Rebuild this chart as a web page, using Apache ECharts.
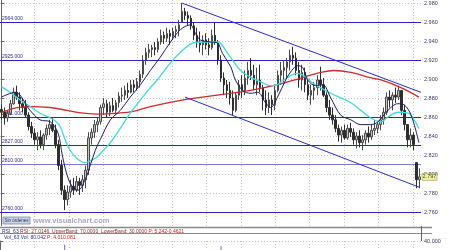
<!DOCTYPE html>
<html><head><meta charset="utf-8">
<script src="https://cdn.jsdelivr.net/npm/echarts@6/dist/echarts.min.js"></script>
<style>html,body{margin:0;padding:0;background:#fff}#c{width:450px;height:250px}</style>
</head><body><div id="c"></div>
<script>
const high = [
2.873,2.870,2.867,2.878,2.891,2.893,2.886,2.880,2.878,2.865,
2.855,2.848,2.844,2.846,2.843,2.852,2.857,2.859,2.852,2.836,
2.815,2.788,2.788,2.794,2.796,2.798,2.796,2.799,2.809,2.844,
2.848,2.857,2.859,2.873,2.880,2.878,2.876,2.880,2.878,2.886,
2.891,2.893,2.896,2.899,2.899,2.901,2.909,2.925,2.933,2.937,
2.936,2.939,2.943,2.952,2.950,2.954,2.952,2.954,2.956,2.962,
2.980,2.975,2.971,2.967,2.960,2.954,2.950,2.946,2.948,2.943,
2.952,2.959,2.941,2.925,2.907,2.899,2.897,2.888,2.886,2.899,
2.904,2.909,2.918,2.922,2.915,2.912,2.915,2.894,2.888,2.886,
2.883,2.894,2.909,2.918,2.920,2.922,2.931,2.934,2.928,2.918,
2.915,2.912,2.899,2.894,2.897,2.904,2.913,2.901,2.886,2.878,
2.870,2.862,2.852,2.850,2.852,2.852,2.854,2.848,2.844,2.846,
2.841,2.846,2.850,2.852,2.857,2.855,2.862,2.870,2.886,2.888,
2.886,2.891,2.893,2.888,2.873,2.852,2.848,2.844,2.812,2.806];
const low = [
2.857,2.852,2.855,2.862,2.873,2.878,2.867,2.865,2.859,2.846,
2.838,2.831,2.825,2.827,2.825,2.836,2.841,2.844,2.827,2.804,
2.778,2.762,2.767,2.775,2.778,2.781,2.778,2.781,2.785,2.799,
2.831,2.838,2.844,2.852,2.862,2.859,2.861,2.865,2.862,2.870,
2.876,2.878,2.880,2.885,2.886,2.888,2.891,2.901,2.915,2.922,
2.923,2.925,2.928,2.936,2.937,2.939,2.936,2.941,2.943,2.945,
2.960,2.962,2.957,2.952,2.941,2.933,2.928,2.925,2.931,2.925,
2.931,2.936,2.915,2.897,2.883,2.880,2.873,2.862,2.865,2.878,
2.880,2.883,2.894,2.899,2.888,2.883,2.886,2.867,2.862,2.864,
2.862,2.867,2.886,2.894,2.897,2.901,2.909,2.915,2.904,2.891,
2.888,2.886,2.878,2.873,2.878,2.883,2.888,2.881,2.865,2.857,
2.852,2.844,2.834,2.833,2.836,2.836,2.839,2.831,2.827,2.828,
2.825,2.831,2.833,2.836,2.841,2.843,2.846,2.852,2.862,2.870,
2.867,2.875,2.878,2.862,2.846,2.828,2.828,2.825,2.785,2.785];
const close = [
2.865,2.859,2.864,2.874,2.886,2.881,2.874,2.870,2.862,2.850,
2.843,2.836,2.839,2.831,2.841,2.848,2.852,2.846,2.831,2.809,
2.783,2.773,2.781,2.787,2.783,2.792,2.788,2.794,2.804,2.838,
2.844,2.852,2.855,2.870,2.874,2.865,2.872,2.867,2.875,2.882,
2.883,2.888,2.886,2.894,2.891,2.897,2.905,2.920,2.928,2.931,
2.933,2.931,2.939,2.946,2.943,2.948,2.945,2.950,2.952,2.957,
2.971,2.967,2.964,2.956,2.946,2.939,2.936,2.941,2.936,2.933,
2.946,2.939,2.920,2.901,2.894,2.888,2.880,2.867,2.883,2.894,
2.888,2.901,2.909,2.904,2.894,2.899,2.891,2.878,2.870,2.878,
2.873,2.888,2.904,2.909,2.912,2.918,2.925,2.922,2.909,2.899,
2.907,2.894,2.883,2.888,2.891,2.899,2.894,2.883,2.870,2.862,
2.857,2.848,2.841,2.846,2.838,2.848,2.844,2.836,2.840,2.833,
2.836,2.843,2.839,2.846,2.848,2.852,2.857,2.865,2.881,2.878,
2.883,2.881,2.888,2.867,2.852,2.836,2.841,2.831,2.794,2.797];
const firstOpen = 2.868;

// moving averages: [bar index, price]
const maFast = [[0,2.881],[4.5,2.886],[9.5,2.867],[12.8,2.857],[16.2,2.855],[18.8,2.843],[20.2,2.820],[21.8,2.799],[23.5,2.787],[25.5,2.783],[27.8,2.794],[29.5,2.809],[31.2,2.825],[32.8,2.836],[36.2,2.857],[39.5,2.867],[42.8,2.881],[46.2,2.894],[49.5,2.909],[52.8,2.923],[56.2,2.939],[59.5,2.952],[62.8,2.957],[64.5,2.948],[66.2,2.941],[69.5,2.939],[71.8,2.938],[73.5,2.927],[76.2,2.913],[77.8,2.899],[80.2,2.888],[82.8,2.885],[85.2,2.886],[87.8,2.875],[89.5,2.870],[91.8,2.881],[94.5,2.899],[96.5,2.909],[98.5,2.914],[100.2,2.912],[101.8,2.899],[104.5,2.893],[106.8,2.894],[109.5,2.880],[112.8,2.862],[116.2,2.857],[119.5,2.852],[122.8,2.852],[125.2,2.855],[128.5,2.867],[131.8,2.874],[133.8,2.873],[136.2,2.862],[138.8,2.833]];
const maMid = [[0,2.892],[2.8,2.886],[6.2,2.878],[9.5,2.871],[12.8,2.864],[16.2,2.859],[17.8,2.856],[19.5,2.850],[21.2,2.836],[22.8,2.825],[25.2,2.816],[27.8,2.812],[30.2,2.815],[31.8,2.818],[34.5,2.827],[36.2,2.833],[39.5,2.848],[42.8,2.864],[46.2,2.878],[49.5,2.891],[51.8,2.899],[56.2,2.917],[60.5,2.931],[63.8,2.938],[67.2,2.939],[71.8,2.939],[75.2,2.927],[79.5,2.909],[82.8,2.902],[86.2,2.897],[89.5,2.893],[91.8,2.894],[93.8,2.899],[98.5,2.906],[101.2,2.902],[103.8,2.895],[109.5,2.885],[116.2,2.875],[119.5,2.867],[122.8,2.859],[126.2,2.855],[128.5,2.860],[131.8,2.865],[135.2,2.864],[137.2,2.857],[138.8,2.848]];
const maSlow = [[0,2.865],[5.2,2.870],[9.5,2.871],[16.2,2.870],[21.8,2.867],[27.2,2.864],[32.8,2.863],[38.5,2.864],[43.8,2.866],[49.5,2.871],[60.5,2.878],[71.8,2.883],[82.8,2.888],[91.8,2.894],[99.5,2.901],[106.2,2.907],[110.5,2.909],[116.2,2.907],[121.8,2.902],[126.2,2.899],[132.8,2.891],[138.8,2.881]];

const trendUpper = [[60,2.980],[139.5,2.886]];
const trendLower = [[61,2.881],[139,2.786]];
const levels = [2.964, 2.925, 2.861, 2.827, 2.810, 2.760];
const levelLabels = ['2964.000','2925.000','2861.000','2827.000','2810.000','2760.000'];
const lastPrice = 2.797;
const volume = [[21, 37.5], [73, 36.5]];
const rsiInfo = ['RSI_63', 'RSI: 27.0146  UpperBand: 70.0000  LowerBand: 30.0000', 'P: 5.242-0.4621'];
const volInfo = ['Vol_63', 'Vol: 80.042', 'P: 4.010.081'];

const cats = close.map((_, i) => 'B' + i);
const candles = close.map((c, i) => {
  let o = i === 0 ? firstOpen : close[i - 1];
  o = Math.min(high[i], Math.max(low[i], o));
  return [o, c, low[i], high[i]];
});

const FONT = 'Liberation Sans';
const chart = echarts.init(document.getElementById('c'), null, {renderer: 'canvas'});
const gridSplit = {show: true, showMinLine: false, showMaxLine: false, lineStyle: {color: '#c4c4c4', type: [1, 2], width: 1}};

const option = {
  animation: false,
  backgroundColor: '#ffffff',
  grid: [
    {left: 0, right: 29, top: 0, bottom: 19, outerBoundsMode: 'none'},
    {left: 0, right: 29, top: 241, height: 60, outerBoundsMode: 'none'}
  ],
  xAxis: [
    {type: 'category', data: cats, gridIndex: 0, show: false, boundaryGap: true},
    {type: 'value', min: -0.5, max: 139.5, gridIndex: 0, show: false},
    {type: 'value', min: 0, max: 421, interval: 34.4, gridIndex: 0, axisLine: {show: false}, axisTick: {show: false}, axisLabel: {show: false}, splitLine: gridSplit},
    {type: 'category', data: cats, gridIndex: 1, show: false, boundaryGap: true},
    {type: 'value', min: 0, max: 421, interval: 34.4, gridIndex: 1, axisLine: {show: false}, axisTick: {show: false}, axisLabel: {show: false}, splitLine: gridSplit}
  ],
  yAxis: [
    {type: 'value', gridIndex: 0, position: 'right', min: 2.74, max: 2.9832, interval: 0.02, scale: true,
      axisLine: {show: true, lineStyle: {color: '#666', width: 1}},
      axisTick: {show: true, length: 3, lineStyle: {color: '#666'}},
      axisLabel: {fontSize: 5.5, color: '#3a3a6a', margin: 3, fontFamily: FONT, showMinLabel: false, showMaxLabel: false,
        formatter: v => v.toFixed(3)},
      splitLine: {show: true, showMinLine: false, showMaxLine: false, lineStyle: {color: '#c4c4c4', type: [1, 2], width: 1}}},
    {type: 'value', gridIndex: 1, position: 'right', min: 0, max: 40, interval: 40,
      axisLine: {show: true, lineStyle: {color: '#666', width: 1}},
      axisTick: {show: true, length: 3, lineStyle: {color: '#666'}},
      axisLabel: {fontSize: 5.5, color: '#3a3a6a', margin: 3, fontFamily: FONT, showMinLabel: false,
        formatter: v => v.toFixed(3)},
      splitLine: {show: true, lineStyle: {color: '#c4c4c4', type: [1, 2], width: 1}}}
  ],
  series: [
    {type: 'candlestick', xAxisIndex: 0, yAxisIndex: 0, data: candles, barWidth: 2, z: 3,
      itemStyle: {color: '#c4c4c4', color0: '#2e2e2e', borderColor: '#4a4a4a', borderColor0: '#2e2e2e', borderWidth: 1},
      markLine: {silent: true, symbol: ['none', 'none'], animation: false, z: 1,
        data: levels.map((v, k) => ({yAxis: v,
          lineStyle: {color: k === 4 ? '#7a7ad8' : '#2626c8', width: 1, type: 'solid'},
          label: {show: true, position: 'insideStartTop', formatter: levelLabels[k], fontSize: 5, color: '#2d2d8c', fontFamily: FONT, distance: [2, 1]}}))}},
    {type: 'line', name: 'slow', xAxisIndex: 1, yAxisIndex: 0, data: maSlow, smooth: 0.4, symbol: 'none', z: 4,
      lineStyle: {color: '#d42a2a', width: 1.3}},
    {type: 'line', name: 'mid', xAxisIndex: 1, yAxisIndex: 0, data: maMid, smooth: 0.4, symbol: 'none', z: 5,
      lineStyle: {color: '#3fdede', width: 1.3}},
    {type: 'line', name: 'fast', xAxisIndex: 1, yAxisIndex: 0, data: maFast, smooth: 0.35, symbol: 'none', z: 6,
      lineStyle: {color: '#1c1c72', width: 1}},
    {type: 'line', name: 'upper', xAxisIndex: 1, yAxisIndex: 0, data: trendUpper, symbol: 'none', z: 7,
      lineStyle: {color: '#2b2bd0', width: 1}},
    {type: 'line', name: 'lower', xAxisIndex: 1, yAxisIndex: 0, data: trendLower, symbol: 'none', z: 7,
      lineStyle: {color: '#2b2bd0', width: 1}},
    {type: 'bar', xAxisIndex: 3, yAxisIndex: 1, data: volume, barWidth: 1, itemStyle: {color: '#7a66d0'}}
  ]
};
chart.setOption(option);

const yLast = chart.convertToPixel({yAxisIndex: 0}, lastPrice);
const axisX = chart.convertToPixel({xAxisIndex: 2}, 421);
chart.setOption({
  graphic: [
    {type: 'rect', z: 200, shape: {x: 0, y: 226, width: 450, height: 12.5}, style: {fill: '#ffffff'}},
    {type: 'line', z: 201, shape: {x1: 0, y1: 227.5, x2: 432, y2: 227.5}, style: {stroke: '#8a8a8a', lineWidth: 1.5}},
    {type: 'line', z: 201, shape: {x1: 0, y1: 233.5, x2: 432, y2: 233.5}, style: {stroke: '#8a8a8a', lineWidth: 1.2}},
    {type: 'line', z: 201, shape: {x1: axisX + 0.5, y1: 226, x2: axisX + 0.5, y2: 241}, style: {stroke: '#666', lineWidth: 1}},
    {type: 'text', z: 202, x: 2, y: 229, style: {text: '{a|' + rsiInfo[0] + ' }{b|' + rsiInfo[1] + ' }{c|' + rsiInfo[2] + '}', font: '5px ' + FONT,
      rich: {a: {fill: '#2d2d8c', fontSize: 5, fontFamily: FONT}, b: {fill: '#8c2d2d', fontSize: 5, fontFamily: FONT}, c: {fill: '#d02020', fontSize: 5, fontFamily: FONT}}}},
    {type: 'text', z: 202, x: 4, y: 235, style: {text: '{a|' + volInfo[0] + ' }{b|' + volInfo[1] + ' }{c|' + volInfo[2] + '}', font: '5px ' + FONT,
      rich: {a: {fill: '#2d2d8c', fontSize: 5, fontFamily: FONT}, b: {fill: '#2d2d8c', fontSize: 5, fontFamily: FONT}, c: {fill: '#d02020', fontSize: 5, fontFamily: FONT}}}},
    {type: 'group', z: 202, x: 433, y: 228, children: [0, 5, 10].map(dx => ({type: 'rect', shape: {x: dx, y: 0, width: 4, height: 4}, style: {fill: '#d6d6d6', stroke: '#888', lineWidth: 0.6}}))},
    {type: 'group', z: 202, x: 433, y: 234, children: [0, 5, 10].map(dx => ({type: 'rect', shape: {x: dx, y: 0, width: 4, height: 4}, style: {fill: '#d6d6d6', stroke: '#888', lineWidth: 0.6}}))},
    {type: 'rect', z: 150, shape: {x: 3, y: 217, width: 27, height: 7}, style: {fill: '#c9d4e4', stroke: '#6a7c9a', lineWidth: 0.7}},
    {type: 'text', z: 151, x: 16.5, y: 220.5, style: {text: 'Sin órdenes', fontSize: 4.5, fontFamily: FONT, fill: '#1f2f55', align: 'center', verticalAlign: 'middle'}},
    {type: 'text', z: 150, x: 33, y: 220.5, style: {text: 'www.visualchart.com', fontSize: 7.5, fontWeight: 'bold', fontFamily: FONT, fill: '#a9aabb', verticalAlign: 'middle'}},
    {type: 'rect', z: 210, shape: {x: axisX + 1, y: yLast - 3.5, width: 15, height: 7}, style: {fill: '#f4f49a', stroke: '#9a9a60', lineWidth: 0.6}},
    {type: 'text', z: 211, x: axisX + 8.5, y: yLast, style: {text: lastPrice.toFixed(3), fontSize: 5.5, fontFamily: FONT, fill: '#333', align: 'center', verticalAlign: 'middle'}}
  ]
});
</script>
</body></html>
